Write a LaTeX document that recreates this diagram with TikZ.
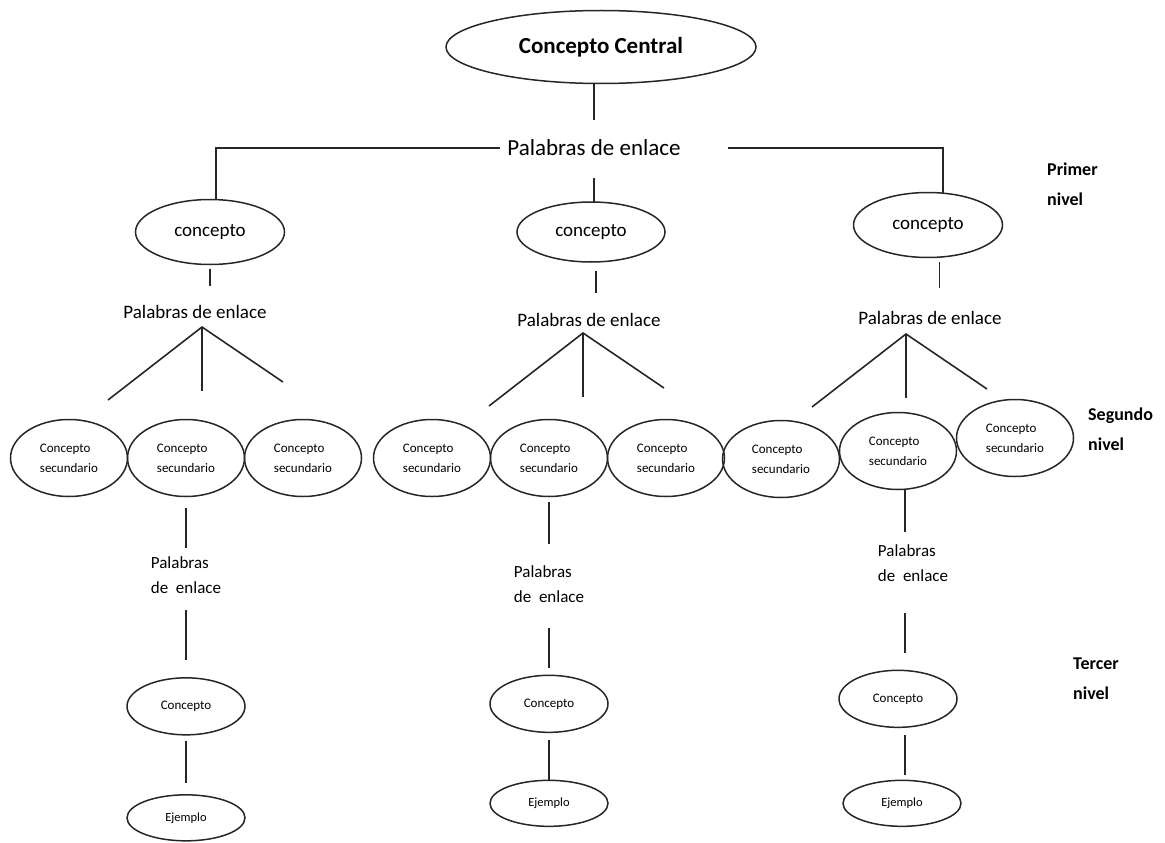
\documentclass[tikz,border=0pt]{standalone}
\usepackage{fontspec}
\setmainfont{Carlito}
\usetikzlibrary{positioning,shapes}
\tikzstyle{link}=[draw=black!85, line width=1.6pt]
\tikzstyle{ovalo}=[ellipse, draw=black!85, line width=1.5pt, inner sep=0pt, outer sep=0pt]
\tikzstyle{central}=[ovalo, minimum width=310pt, minimum height=73pt, font=\fontsize{23}{28}\selectfont\bfseries]
\tikzstyle{concepto}=[ovalo, minimum width=149pt, minimum height=65pt, font=\fontsize{19}{23}\selectfont]
\tikzstyle{secundario}=[ovalo, minimum width=117pt, minimum height=77pt, align=left, font=\fontsize{13}{20}\selectfont]
\tikzstyle{terciario}=[ovalo, minimum width=118pt, minimum height=57pt, font=\fontsize{13}{16}\selectfont]
\tikzstyle{ejemplo}=[ovalo, minimum width=118pt, minimum height=46pt, font=\fontsize{12.5}{15}\selectfont]
\tikzstyle{enlace}=[inner sep=0pt, font=\fontsize{19}{23}\selectfont]
\tikzstyle{enlacedos}=[inner sep=0pt, align=left, font=\fontsize{17}{25}\selectfont]
\tikzstyle{nivel}=[anchor=west, inner sep=0pt, align=left, font=\fontsize{18}{30}\selectfont\bfseries]

\begin{document}
\begin{tikzpicture}[x=1pt, y=-1pt]
  \useasboundingbox (0,0) rectangle (1165,843);
  % concepto central
  \node (Central) [central] at (601,47) {Concepto Central};
  \node (Enlace) [enlace, font=\fontsize{23}{28}\selectfont, inner xsep=7pt, inner ysep=20pt] at (594,148) {Palabras de enlace};
  % primer nivel
  \node (ConceptoA) [concepto] at (210,232) {concepto};
  \node (ConceptoB) [concepto, minimum width=148pt, minimum height=60pt] at (591,232) {concepto};
  \node (ConceptoC) [concepto] at (928,225) {concepto};
  \node (EnlaceA) [enlace] at (195,312) {Palabras de enlace};
  \node (EnlaceB) [enlace] at (589,320) {Palabras de enlace};
  \node (EnlaceC) [enlace] at (930,318) {Palabras de enlace};
  \coordinate (RamaA) at ([shift={(7,15)}]EnlaceA.center);
  \coordinate (RamaB) at ([shift={(-6,13)}]EnlaceB.center);
  \coordinate (RamaC) at ([shift={(-24,16)}]EnlaceC.center);
  \coordinate (RamaA1) at ([shift={(-94,73)}]RamaA);
  \coordinate (RamaA2) at ([shift={(0,64)}]RamaA);
  \coordinate (RamaA3) at ([shift={(81,55)}]RamaA);
  \coordinate (RamaB1) at ([shift={(-94,73)}]RamaB);
  \coordinate (RamaB2) at ([shift={(0,64)}]RamaB);
  \coordinate (RamaB3) at ([shift={(81,55)}]RamaB);
  \coordinate (RamaC1) at ([shift={(-94,73)}]RamaC);
  \coordinate (RamaC2) at ([shift={(0,64)}]RamaC);
  \coordinate (RamaC3) at ([shift={(81,55)}]RamaC);
  % segundo nivel
  \node (SecA1) [secundario] at (69,458) {Concepto\\secundario};
  \node (SecA2) [secundario, right=0pt of SecA1] {Concepto\\secundario};
  \node (SecA3) [secundario, right=0pt of SecA2] {Concepto\\secundario};
  \node (SecB1) [secundario] at (432,458) {Concepto\\secundario};
  \node (SecB2) [secundario, right=0pt of SecB1] {Concepto\\secundario};
  \node (SecB3) [secundario, right=0pt of SecB2] {Concepto\\secundario};
  \node (SecC1) [secundario] at (781,459) {Concepto\\secundario};
  \node (SecC2) [secundario, right=0pt of SecC1, yshift=8pt] {Concepto\\secundario};
  \node (SecC3) [secundario, right=0pt of SecC2, yshift=13pt] {Concepto\\secundario};
  % tercer nivel
  \node (EnlaceA2) [enlacedos, below=60pt of SecA2] {Palabras\\de~ enlace};
  \node (TerA) [terciario, below=84pt of EnlaceA2] {Concepto};
  \node (EjemploA) [ejemplo, below=60pt of TerA] {Ejemplo};
  \node (EnlaceB2) [enlacedos, below=69pt of SecB2] {Palabras\\de~ enlace};
  \node (TerB) [terciario, below=72.5pt of EnlaceB2] {Concepto};
  \node (EjemploB) [ejemplo, below=48pt of TerB] {Ejemplo};
  \node (EnlaceC2) [enlacedos, below=54.5pt of SecC2, xshift=15pt] {Palabras\\de~ enlace};
  \node (TerC) [terciario, below=89pt of EnlaceC2, xshift=-15pt] {Concepto};
  \node (EjemploC) [ejemplo, below=53pt of TerC, xshift=4pt] {Ejemplo};
  % niveles
  \node (Primer) [nivel] at (1047,184) {Primer\\nivel};
  \node (Segundo) [nivel] at (1088,429) {Segundo\\nivel};
  \node (Tercer) [nivel] at (1073,679) {Tercer\\nivel};
  % conectores
  \draw [link] (Enlace.north |- Central.south) -- (Enlace.north);
  \draw [link] (Enlace.west) -| (ConceptoA.80);
  \draw [link, shorten <=40pt] (Enlace.east) -| (ConceptoC.65);
  \draw [link, shorten <=2pt] (Enlace.south) -- (Enlace.south |- ConceptoB.north);
  \draw [link, shorten <=4pt, shorten >=19pt] (ConceptoA.south) -- (ConceptoA.south |- EnlaceA.north);
  \draw [link, shorten <=9pt, shorten >=20pt] (ConceptoB.-80) -- (ConceptoB.-80 |- EnlaceB.north);
  \draw [link, shorten <=5pt, shorten >=23pt] (ConceptoC.-70) -- (ConceptoC.-70 |- EnlaceC.north);
  \draw [link] (RamaA1) -- (RamaA) -- (RamaA3);
  \draw [link] (RamaA) -- (RamaA2);
  \draw [link] (RamaB1) -- (RamaB) -- (RamaB3);
  \draw [link] (RamaB) -- (RamaB2);
  \draw [link] (RamaC1) -- (RamaC) -- (RamaC3);
  \draw [link] (RamaC) -- (RamaC2);
  \draw [link, shorten <=11pt, shorten >=9pt] (SecA2.south) -- (EnlaceA2.north);
  \draw [link, shorten <=16pt, shorten >=18pt] (EnlaceA2.south) -- (TerA.north);
  \draw [link, shorten <=6pt, shorten >=12pt] (TerA.south) -- (EjemploA.north);
  \draw [link, shorten <=5pt, shorten >=22pt] (SecB2.south) -- (EnlaceB2.north);
  \draw [link, shorten <=25pt, shorten >=7pt] (EnlaceB2.south) -- (TerB.north);
  \draw [link, shorten <=8pt] (TerB.south) -- (EjemploB.north);
  \draw [link, shorten >=12pt] (SecC2.-80) -- (SecC2.-80 |- EnlaceC2.north);
  \draw [link, shorten <=32pt, shorten >=17pt] (EnlaceC2.south -| SecC2.-80) -- (TerC.north -| SecC2.-80);
  \draw [link, shorten <=8pt, shorten >=5pt] (TerC.south -| SecC2.-80) -- (EjemploC.north -| SecC2.-80);
\end{tikzpicture}
\end{document}
